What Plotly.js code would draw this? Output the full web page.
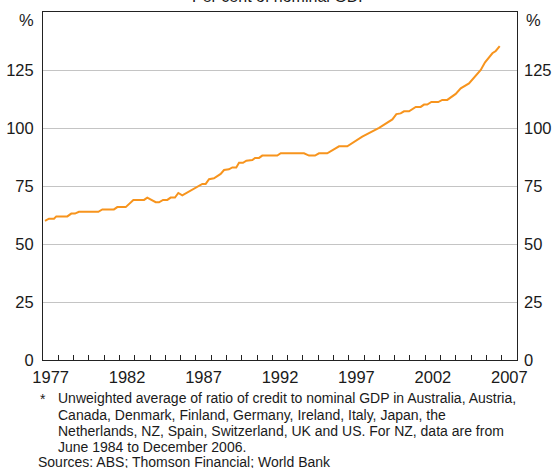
<!DOCTYPE html>
<html>
<head>
<meta charset="utf-8">
<script src="https://cdn.plot.ly/plotly-3.0.1.min.js"></script>
<style>html,body{margin:0;padding:0;background:#fff;}#chart{width:553px;height:468px;}</style>
</head>
<body>
<div id="chart"></div>
<script>
// Credit to nominal GDP, per cent
const years = [1977.13,1977.39,1977.72,1977.87,1978.59,1978.85,1979.09,1979.35,1980.62,1980.88,
  1981.64,1981.86,1982.41,1982.58,1982.91,1983.61,1983.82,1984.37,1984.59,1984.85,
  1985.13,1985.35,1985.63,1985.85,1986.11,1987.42,1987.64,1987.86,1988.18,1988.62,
  1988.84,1989.16,1989.38,1989.64,1989.82,1990.08,1990.30,1990.69,1990.87,1991.13,
  1991.34,1992.32,1992.55,1994.07,1994.40,1994.79,1995.05,1995.59,1996.36,1996.90,
  1997.88,1998.98,1999.85,2000.11,2000.39,2000.61,2000.94,2001.38,2001.70,2001.92,
  2002.13,2002.40,2002.85,2003.11,2003.44,2003.99,2004.32,2004.86,2005.63,2005.91,
  2006.39,2006.61,2006.87];
const credit = [60.0,60.9,60.9,61.9,61.9,63.1,63.1,63.9,63.9,64.9,
  64.9,65.9,65.9,66.9,69.0,69.0,70.0,68.0,68.0,69.0,
  69.0,70.0,70.0,72.0,71.0,75.9,75.9,77.9,78.3,80.2,
  81.9,82.2,83.0,83.0,85.0,85.0,85.9,86.2,87.1,87.1,
  88.1,88.1,89.1,89.1,88.1,88.1,89.1,89.1,92.1,92.1,
  96.3,100.1,103.7,106.0,106.3,107.2,107.2,109.1,109.1,110.1,
  110.1,111.2,111.2,112.1,112.1,114.7,117.1,119.2,125.0,128.3,
  132.2,133.2,135.3];

const yearTicks = [];
for (let y = 1978; y <= 2007; y++) yearTicks.push(y);
const labelYears = ["1977","1982","1987","1992","1997","2002","2007"];
const labelPos = labelYears.map(s => Number(s) + 0.5);
const yTicks = [0,25,50,75,100,125];

const titleText = "Per cent of nominal GDP";
const noteLines = [
  "Unweighted average of ratio of credit to nominal GDP in Australia, Austria,",
  "Canada, Denmark, Finland, Germany, Ireland, Italy, Japan, the",
  "Netherlands, NZ, Spain, Switzerland, UK and US. For NZ, data are from",
  "June 1984 to December 2006."
];
const sourceText = "Sources: ABS; Thomson Financial; World Bank";

const FONT = "Liberation Sans, Arial, Helvetica, sans-serif";
const TXT = "#1a1a1a";

const traces = [
  {x: years, y: credit, type: "scatter", mode: "lines", xaxis: "x", yaxis: "y",
   line: {color: "#f7941d", width: 2}, hoverinfo: "skip", showlegend: false},
  {x: [1977, 2008], y: [0, 0], type: "scatter", mode: "lines", xaxis: "x2", yaxis: "y2",
   line: {width: 0, color: "rgba(0,0,0,0)"}, hoverinfo: "skip", showlegend: false}
];

const H = 468, T = 12, B = 108;
const plotH = H - T - B;
function py(pix) { return (H - B - pix) / plotH; }

const annotations = [
  {text: titleText, xref: "paper", yref: "paper", x: 0.5, y: py(6.5), xanchor: "center", yanchor: "bottom",
   showarrow: false, font: {family: FONT, size: 16, color: TXT}},
  {text: "%", xref: "paper", yref: "paper", x: 0, xshift: -7, y: py(20), xanchor: "right", yanchor: "middle",
   showarrow: false, font: {family: FONT, size: 16.5, color: TXT}},
  {text: "%", xref: "paper", yref: "paper", x: 1, xshift: 7, y: py(20), xanchor: "left", yanchor: "middle",
   showarrow: false, font: {family: FONT, size: 16.5, color: TXT}},
  {text: "*", xref: "paper", yref: "paper", x: 0, xshift: -4, y: py(399), xanchor: "left", yanchor: "middle",
   showarrow: false, borderpad: 0, font: {family: FONT, size: 14, color: TXT}}
];
const rowY = [398, 415, 431, 447];
noteLines.forEach((t, i) => annotations.push({
  text: t, xref: "paper", yref: "paper", x: 0, xshift: 14, y: py(rowY[i]), xanchor: "left", yanchor: "middle",
  showarrow: false, borderpad: 0, font: {family: FONT, size: 14, color: TXT}
}));
annotations.push({text: sourceText, xref: "paper", yref: "paper", x: 0, xshift: -6, y: py(462),
  xanchor: "left", yanchor: "middle", showarrow: false, borderpad: 0, font: {family: FONT, size: 14, color: TXT}});

const layout = {
  width: 553, height: 468,
  margin: {l: 43, r: 36, t: T, b: B, pad: 0},
  paper_bgcolor: "#ffffff", plot_bgcolor: "#ffffff",
  font: {family: FONT, size: 16.5, color: TXT},
  showlegend: false,
  xaxis: {range: [1977, 2008], tickmode: "array", tickvals: yearTicks, ticks: "inside", ticklen: 5,
    tickcolor: "#222", tickwidth: 1, showticklabels: false, showgrid: false, zeroline: false,
    showline: true, linecolor: "#222", linewidth: 1, mirror: true, fixedrange: true},
  xaxis2: {range: [1977, 2008], overlaying: "x", anchor: "y", side: "bottom", tickmode: "array",
    tickvals: labelPos, ticktext: labelYears, ticks: "", showgrid: false, zeroline: false, showline: false,
    ticklabelstandoff: 5,
    tickfont: {family: FONT, size: 16.5, color: TXT}, fixedrange: true},
  yaxis: {range: [0, 150], tickmode: "array", tickvals: yTicks, ticks: "", showgrid: true,
    gridcolor: "#c4c4c4", gridwidth: 1, zeroline: false, showline: true, linecolor: "#222", linewidth: 1,
    mirror: true, ticklabelstandoff: 5, tickfont: {family: FONT, size: 16.5, color: TXT}, fixedrange: true},
  yaxis2: {range: [0, 150], overlaying: "y", anchor: "x", side: "right", tickmode: "array",
    tickvals: yTicks, ticks: "", showgrid: false, zeroline: false, showline: false, ticklabelstandoff: 6,
    tickfont: {family: FONT, size: 16.5, color: TXT}, fixedrange: true},
  annotations: annotations
};

Plotly.newPlot("chart", traces, layout, {displayModeBar: false, staticPlot: true});
</script>
</body>
</html>
